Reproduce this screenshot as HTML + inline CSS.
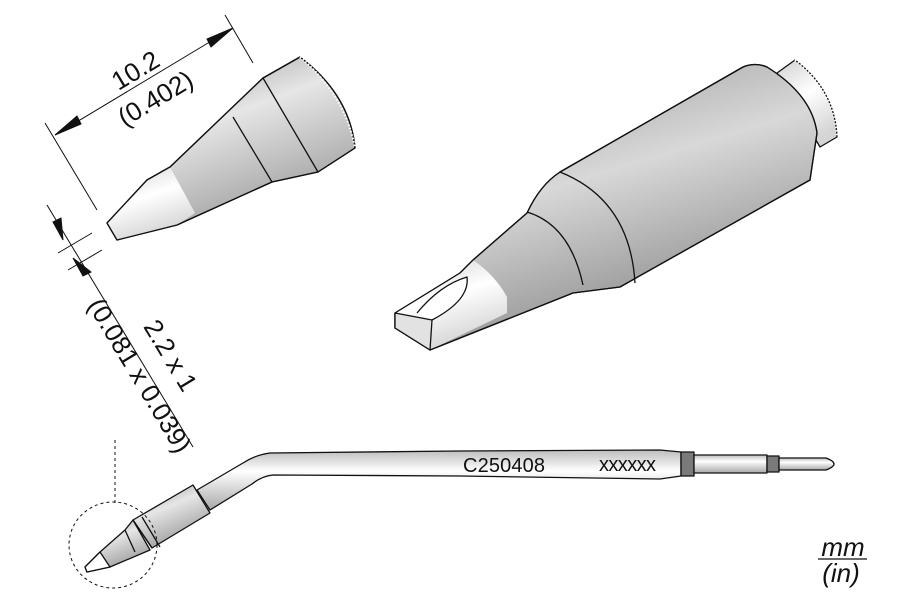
<!DOCTYPE html>
<html><head><meta charset="utf-8"><style>
html,body{margin:0;padding:0;background:#fff;width:900px;height:600px;overflow:hidden}
svg{display:block}
text{font-family:"Liberation Sans",Arial,sans-serif;fill:#111}
.d{font-size:26px}
.c{font-size:20px}
.u{font-size:26px;font-style:italic}
</style></head><body>
<svg width="900" height="600" viewBox="0 0 900 600" xmlns="http://www.w3.org/2000/svg">
<defs>
<linearGradient id="g1" x1="0" y1="0" x2="0.5" y2="1">
<stop offset="0" stop-color="#8a8a8a"/><stop offset="0.45" stop-color="#e6e6e6"/><stop offset="1" stop-color="#9a9a9a"/></linearGradient>
<linearGradient id="g2" x1="0" y1="0" x2="0.45" y2="1">
<stop offset="0" stop-color="#909090"/><stop offset="0.5" stop-color="#d8d8d8"/><stop offset="1" stop-color="#8a8a8a"/></linearGradient>
<linearGradient id="gw" x1="0" y1="0" x2="0.4" y2="1">
<stop offset="0" stop-color="#d0d0d0"/><stop offset="0.5" stop-color="#ffffff"/><stop offset="1" stop-color="#d5d5d5"/></linearGradient>
<linearGradient id="gs" x1="0" y1="0" x2="0" y2="1">
<stop offset="0" stop-color="#bdbdbd"/><stop offset="0.35" stop-color="#ffffff"/><stop offset="1" stop-color="#a8a8a8"/></linearGradient>
</defs>

<g stroke="#111" stroke-width="1.3" stroke-linejoin="round">
<path d="M300,57 Q350,95 355,148 L318,172 L272,182 L177,225 L117,240 L107,223 L147,180 L170,167 L263,78 Z" fill="url(#g1)"/>
<path d="M107,223 L147,180 L170,167 L195,213 L177,225 L117,240 Z" fill="url(#gw)" stroke="none"/>
<path d="M300,57 Q350,95 355,148 L318,172 L272,182 L177,225 L117,240 L107,223 L147,180 L170,167 L263,78 Z" fill="none"/>
<path d="M233,117 L272,182 M263,78 L318,172" fill="none"/>
<path d="M300,57 Q345,95 355,148" fill="none" stroke="#fff" stroke-width="2" stroke-dasharray="1.5 2"/>
</g>
<g stroke="#111" stroke-width="1" fill="#111">
<line x1="45" y1="123" x2="97" y2="210"/>
<line x1="225" y1="15" x2="253" y2="63"/>
<line x1="55" y1="135" x2="233" y2="28"/>
<polygon points="55,135 77,116 81,124"/>
<polygon points="233,28 211,47 207,39"/>
</g>
<text class="d" transform="translate(140,78) rotate(-31)" text-anchor="middle">10.2</text>
<text class="d" transform="translate(160,106) rotate(-31)" text-anchor="middle">(0.402)</text>
<g stroke="#111" stroke-width="1" fill="#111">
<line x1="47" y1="205" x2="193" y2="447"/>
<line x1="58" y1="253" x2="92" y2="233"/>
<line x1="68" y1="270" x2="102" y2="250"/>
<polygon points="63,240 53,222 61,218"/>
<polygon points="73,258 83,276 91,272"/>
</g>
<text class="d" transform="translate(163,360) rotate(59)" text-anchor="middle">2.2 x 1</text>
<text class="d" transform="translate(132,380) rotate(59)" text-anchor="middle">(0.081 x 0.039)</text>

<g stroke="#111" stroke-width="1.3" stroke-linejoin="round">
<path d="M777,73 L795,60 Q835,90 837,137 L820,147 Z" fill="url(#gw)"/>
<path d="M795,60 Q835,90 837,137" fill="none" stroke="#fff" stroke-width="2" stroke-dasharray="1.5 2"/>
<path d="M395,313 L460,273 L473,260 L527,213 Q540,185 560,172 L743,67 Q755,62 767,67 Q812,95 817,133 L810,180 L620,287 L573,293 L430,350 L395,328 Z" fill="url(#g2)"/>
<path d="M395,313 L460,273 L473,260 Q495,275 507,297 L507,313 L430,350 L395,328 Z" fill="url(#gw)" stroke="none"/>
<path d="M395,313 L460,273 L473,260 L527,213 Q540,185 560,172 L743,67 Q755,62 767,67 Q812,95 817,133 L810,180 L620,287 L573,293 L430,350 L395,328 Z" fill="none"/>
<path d="M560,172 Q630,200 635,283 M527,212 Q570,225 583,285" fill="none"/>
<path d="M417,313 Q440,285 467,277 Q470,300 432,320" fill="#fff"/>
<path d="M395,313 L432,320 L430,350 L395,328 Z" fill="#e2e2e2"/>
</g>

<line x1="115" y1="440" x2="115" y2="506" stroke="#111" stroke-width="1" stroke-dasharray="3 3"/>
<g stroke="#111" stroke-width="1.3" stroke-linejoin="round">
<path d="M197,490 L243,463 Q255,455 270,453 L460,451 L660,450 L681,452 L681,476 L660,479 L460,476 L273,475 Q262,476 252,484 L210,510 Z" fill="url(#gs)"/>
<path d="M193,485 L210,513 L152,548 L133,520 Z" fill="url(#g1)"/>
<path d="M133,520 L125,530 L100,552 L85,567 L87,572 L110,567 L150,550 Z" fill="url(#g1)"/>
<path d="M100,552 L85,567 L87,572 L110,567 Z" fill="#fff"/>
<path d="M133,520 L152,548 M142,517 L160,547 M125,530 L135,552" fill="none"/>
<rect x="681" y="452" width="13" height="24" fill="#7a7a7a"/>
<rect x="694" y="455" width="73" height="18" fill="url(#gs)"/>
<rect x="767" y="456" width="12" height="16" fill="#7a7a7a"/>
<path d="M779,458 L826,458 Q834,461 834,464 Q834,467 826,470 L779,470 Z" fill="url(#gs)"/>
</g>
<ellipse cx="113" cy="545" rx="44" ry="43" fill="none" stroke="#111" stroke-width="1" stroke-dasharray="3 3"/>
<text class="c" x="463" y="472" textLength="82">C250408</text>
<text class="c" x="599" y="471" textLength="57">xxxxxx</text>

<text class="u" x="843" y="556" text-anchor="middle">mm</text>
<line x1="818" y1="559" x2="867" y2="559" stroke="#111" stroke-width="1.2"/>
<text class="u" x="841" y="582" text-anchor="middle">(in)</text>
</svg>
</body></html>
